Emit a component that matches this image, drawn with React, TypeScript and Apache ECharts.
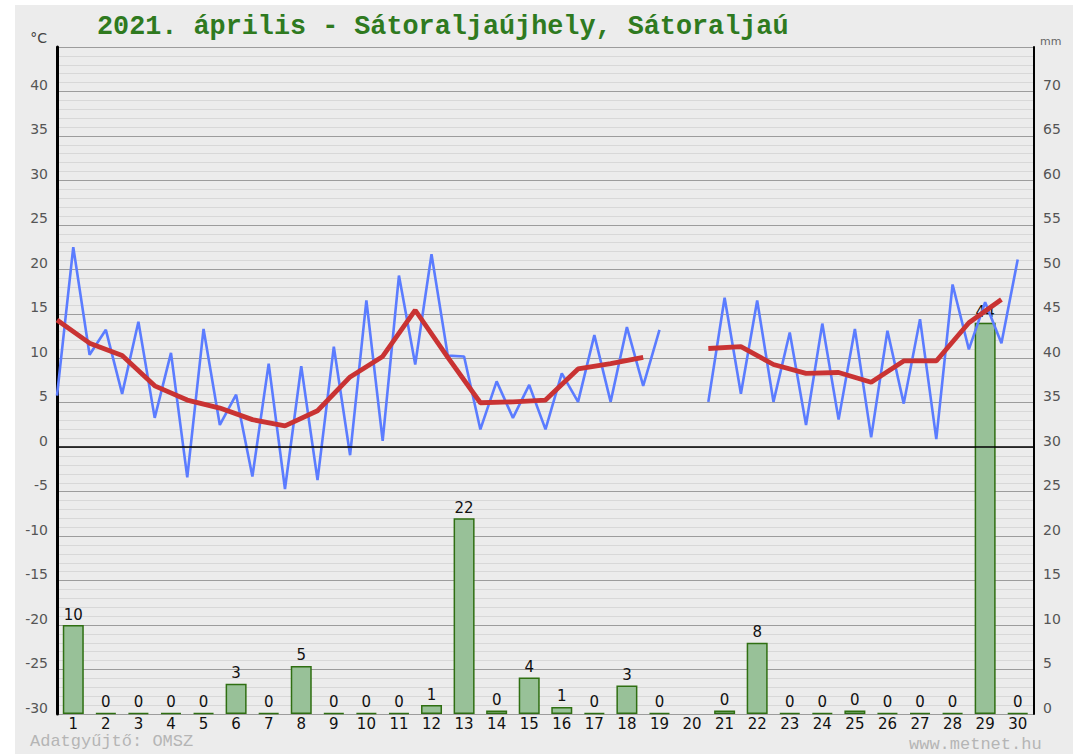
import React, { useEffect, useRef } from "react";
import * as echarts from "echarts";

const dayLabels = ["1","2","3","4","5","6","7","8","9","10","11","12","13","14","15","16","17","18","19","20","21","22","23","24","25","26","27","28","29","30"];
const tMin = [5.8, 10.4, 6.0, 3.3, -3.4, 2.5, -3.3, -4.7, -3.7, -0.9, 0.7, 9.3, 10.3, 2.0, 3.3, 2.0, 5.1, 5.1, 6.9, null, 5.1, 6.0, 5.1, 2.5, 3.1, 1.1, 4.9, 0.9, 11.0, 11.7];
const tMax = [22.5, 13.2, 14.1, 10.6, 13.3, 5.9, 9.4, 9.1, 11.3, 16.5, 19.3, 21.7, 10.2, 7.4, 7.0, 8.3, 12.6, 13.5, 13.2, null, 16.8, 16.5, 12.9, 13.9, 13.3, 13.1, 14.4, 18.3, 16.3, 21.1];
const tMean = [14.3, 11.7, 10.3, 6.9, 5.3, 4.4, 3.1, 2.4, 4.1, 7.9, 10.2, 15.4, 10.1, 5.0, 5.1, 5.3, 8.8, 9.4, 10.1, null, 11.1, 11.3, 9.3, 8.3, 8.4, 7.3, 9.7, 9.7, 14.0, 16.6];
const precip = [10, 0, 0, 0, 0, 3.4, 0, 5.4, 0, 0, 0, 1.0, 22, 0.4, 4.1, 0.8, 0, 3.2, 0.1, null, 0.4, 8.0, 0, 0, 0.4, 0, 0, 0, 44, 0];

const TITLE = "2021. április - Sátoraljaújhely, Sátoraljaú";

export default function App() {
  const ref = useRef<HTMLDivElement>(null);
  useEffect(() => {
    if (!ref.current) return;
    const chart = echarts.init(ref.current, null, { renderer: "svg" });
    const blue: any[] = [];
    for (let i = 0; i < tMin.length; i++) {
      blue.push([i, tMin[i]]);
      blue.push([i + 0.5, tMax[i]]);
    }
    const red = tMean.map((v, i) => [i, v]);
    const numFont = "DejaVu Sans";
    chart.setOption({
      animation: false,
      backgroundColor: "transparent",
      grid: { left: 57, right: 39, top: 47, bottom: 40, containLabel: false },
      xAxis: [
        {
          type: "category",
          data: dayLabels,
          boundaryGap: true,
          axisLine: { show: false },
          axisTick: { show: false },
          axisLabel: { color: "#111", fontSize: 15, fontFamily: numFont, margin: 2, interval: 0 },
          splitLine: { show: false },
        },
        { type: "value", min: 0, max: 30, show: false },
      ],
      yAxis: [
        {
          type: "value",
          min: -30,
          max: 45,
          interval: 5,
          position: "left",
          axisLine: { show: true, lineStyle: { color: "#000", width: 3 } },
          axisTick: { show: false },
          axisLabel: {
            color: "#555",
            fontSize: 14,
            fontFamily: numFont,
            margin: 9,
            verticalAlign: "bottom",
            lineHeight: 13,
            formatter: (v: number) => (v === 45 ? "" : String(v)),
          },
          splitLine: { show: true, lineStyle: { color: "#9c9c9c", width: 1 } },
          minorTick: { show: false, splitNumber: 5 },
          minorSplitLine: { show: true, lineStyle: { color: "#d8d8d8", width: 1 } },
        },
        {
          type: "value",
          min: 0,
          max: 75,
          interval: 5,
          position: "right",
          axisLine: { show: true, lineStyle: { color: "#000", width: 2 } },
          axisTick: { show: false },
          axisLabel: {
            color: "#555",
            fontSize: 14,
            fontFamily: numFont,
            margin: 9,
            verticalAlign: "bottom",
            lineHeight: 13,
            formatter: (v: number) => (v === 75 ? "" : String(v)),
          },
          splitLine: { show: false },
        },
      ],
      series: [
        {
          type: "line",
          xAxisIndex: 1,
          yAxisIndex: 0,
          data: [],
          z: 1,
          silent: true,
          markLine: {
            silent: true,
            symbol: "none",
            label: { show: false },
            lineStyle: { color: "#000", width: 1.5, type: "solid" },
            data: [{ yAxis: 0 }],
          },
        },
        {
          type: "bar",
          xAxisIndex: 0,
          yAxisIndex: 1,
          data: precip.map((v) => (v === null ? "-" : v)),
          barWidth: 21,
          barMinHeight: 1,
          z: 2,
          itemStyle: { color: "#98c198", borderColor: "#2f6f12", borderWidth: 1.5 },
          label: {
            show: true,
            position: "top",
            distance: 3,
            color: "#111",
            fontSize: 15,
            fontFamily: numFont,
            formatter: (p: any) => String(Math.round(p.value)),
          },
        },
        {
          type: "line",
          xAxisIndex: 1,
          yAxisIndex: 0,
          data: blue,
          z: 3,
          symbol: "none",
          connectNulls: false,
          lineStyle: { color: "#5b7cff", width: 2.6 },
        },
        {
          type: "line",
          xAxisIndex: 1,
          yAxisIndex: 0,
          data: red,
          z: 4,
          symbol: "none",
          connectNulls: false,
          lineStyle: { color: "#c93333", width: 4.8 },
        },
      ],
      graphic: [
        {
          type: "text",
          left: 97,
          top: 13,
          style: { text: TITLE, fill: "#2f7a1f", font: "bold 26.8px 'Liberation Mono', monospace" },
        },
        {
          type: "text",
          right: 1073 - 47,
          top: 31,
          style: { text: "°C", fill: "#444", font: "14px 'DejaVu Sans'" },
        },
        {
          type: "text",
          left: 1040,
          top: 36,
          style: { text: "mm", fill: "#666", font: "11px 'DejaVu Sans'" },
        },
        {
          type: "text",
          left: 30,
          top: 733,
          style: { text: "Adatgyűjtő: OMSZ", fill: "#b5b5b5", font: "17px 'Liberation Mono', monospace" },
        },
        {
          type: "text",
          left: 909,
          top: 736,
          style: { text: "www.metnet.hu", fill: "#b5b5b5", font: "17px 'Liberation Mono', monospace" },
        },
      ],
    });
    return () => chart.dispose();
  }, []);
  return (
    <div style={{ position: "absolute", left: 0, top: 0, width: 1073, height: 754, background: "#fff" }}>
      <div style={{ position: "absolute", left: 15, top: 5, right: 0, bottom: 0, background: "#ececec" }} />
      <div ref={ref} style={{ position: "absolute", left: 0, top: 0, width: 1073, height: 754 }} />
    </div>
  );
}
